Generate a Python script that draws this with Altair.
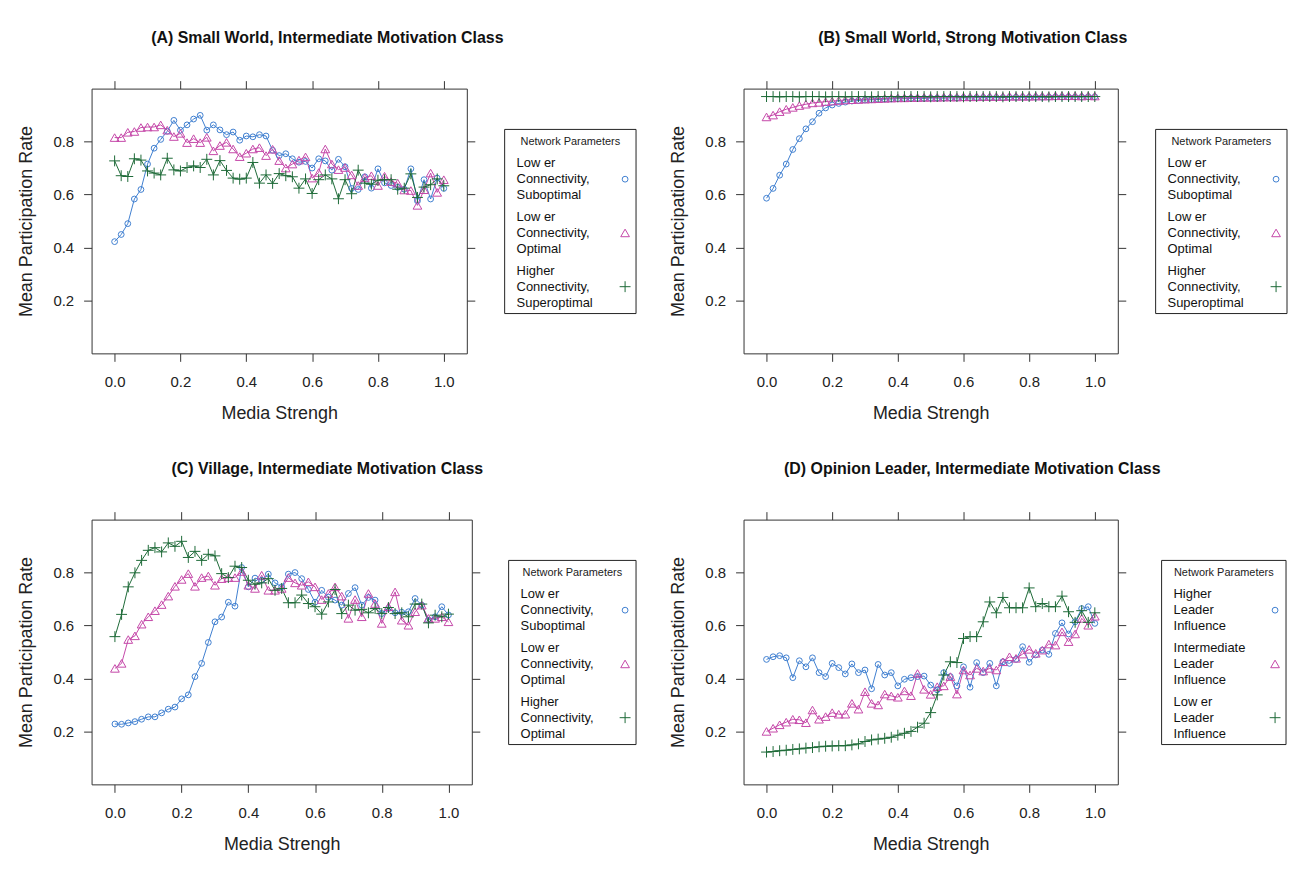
import altair as alt
import pandas as pd

FONT = "Liberation Sans"

X = [round(0.02 * i, 2) for i in range(51)]
X_TICKS = [0.0, 0.2, 0.4, 0.6, 0.8, 1.0]
Y_TICKS = [0.2, 0.4, 0.6, 0.8]

# (A) Small World, Intermediate Motivation Class
A_S1 = [0.422, 0.449, 0.490, 0.583, 0.619, 0.715, 0.775, 0.808, 0.839, 0.880,
        0.843, 0.863, 0.885, 0.899, 0.843, 0.863, 0.844, 0.826, 0.836, 0.805,
        0.821, 0.818, 0.826, 0.821, 0.767, 0.747, 0.754, 0.735, 0.722, 0.725,
        0.700, 0.735, 0.727, 0.692, 0.733, 0.705, 0.623, 0.619, 0.667, 0.624,
        0.697, 0.644, 0.634, 0.627, 0.620, 0.697, 0.576, 0.656, 0.583, 0.662, 0.623]
A_S2 = [0.815, 0.815, 0.835, 0.838, 0.853, 0.855, 0.855, 0.863, 0.843, 0.819,
        0.831, 0.796, 0.811, 0.796, 0.816, 0.765, 0.785, 0.797, 0.772, 0.743,
        0.756, 0.772, 0.777, 0.747, 0.771, 0.728, 0.700, 0.715, 0.730, 0.742,
        0.662, 0.683, 0.772, 0.715, 0.694, 0.702, 0.674, 0.634, 0.664, 0.671,
        0.634, 0.669, 0.649, 0.643, 0.617, 0.615, 0.559, 0.618, 0.681, 0.608, 0.656]
A_S3 = [0.727, 0.671, 0.668, 0.735, 0.730, 0.689, 0.681, 0.674, 0.737, 0.693,
        0.689, 0.702, 0.708, 0.702, 0.733, 0.674, 0.728, 0.691, 0.662, 0.658,
        0.662, 0.721, 0.643, 0.674, 0.642, 0.679, 0.671, 0.667, 0.624, 0.659,
        0.604, 0.656, 0.674, 0.659, 0.584, 0.656, 0.603, 0.692, 0.643, 0.639,
        0.654, 0.656, 0.656, 0.620, 0.624, 0.678, 0.589, 0.628, 0.637, 0.659, 0.633]

# (B) Small World, Strong Motivation Class
B_S1 = [0.586, 0.623, 0.673, 0.715, 0.770, 0.811, 0.848, 0.875, 0.907, 0.927,
        0.938, 0.944, 0.949, 0.953, 0.955, 0.957, 0.958, 0.959, 0.960, 0.961,
        0.962, 0.962, 0.963, 0.963, 0.963, 0.964, 0.964, 0.964, 0.965, 0.965,
        0.965, 0.965, 0.966, 0.966, 0.966, 0.966, 0.966, 0.967, 0.967, 0.967,
        0.967, 0.967, 0.967, 0.968, 0.968, 0.968, 0.968, 0.968, 0.968, 0.969, 0.969]
B_S2 = [0.893, 0.900, 0.913, 0.922, 0.929, 0.936, 0.941, 0.946, 0.948, 0.951,
        0.953, 0.955, 0.957, 0.958, 0.959, 0.960, 0.961, 0.962, 0.963, 0.964,
        0.965, 0.965, 0.966, 0.966, 0.967, 0.967, 0.967, 0.968, 0.968, 0.968,
        0.969, 0.969, 0.969, 0.970, 0.970, 0.970, 0.970, 0.971, 0.971, 0.971,
        0.971, 0.972, 0.972, 0.972, 0.973, 0.973, 0.973, 0.973, 0.972, 0.973, 0.972]
B_S3 = [0.970, 0.970, 0.969, 0.970, 0.970, 0.969, 0.970, 0.970, 0.970, 0.969,
        0.970, 0.970, 0.969, 0.970, 0.970, 0.970, 0.969, 0.970, 0.970, 0.970,
        0.969, 0.970, 0.970, 0.970, 0.970, 0.969, 0.970, 0.970, 0.970, 0.970,
        0.969, 0.970, 0.970, 0.970, 0.970, 0.970, 0.969, 0.970, 0.970, 0.970,
        0.970, 0.970, 0.970, 0.969, 0.970, 0.970, 0.970, 0.970, 0.970, 0.970, 0.970]

# (C) Village, Intermediate Motivation Class
C_S1 = [0.228, 0.227, 0.232, 0.237, 0.246, 0.255, 0.255, 0.270, 0.284, 0.292,
        0.323, 0.338, 0.407, 0.457, 0.536, 0.614, 0.632, 0.688, 0.673, 0.819,
        0.746, 0.779, 0.771, 0.794, 0.761, 0.746, 0.794, 0.800, 0.777, 0.736,
        0.688, 0.733, 0.707, 0.696, 0.677, 0.721, 0.743, 0.677, 0.706, 0.696,
        0.645, 0.664, 0.648, 0.650, 0.652, 0.702, 0.677, 0.620, 0.633, 0.671, 0.640]
C_S2 = [0.438, 0.457, 0.547, 0.561, 0.605, 0.633, 0.656, 0.679, 0.711, 0.748,
        0.774, 0.796, 0.748, 0.781, 0.787, 0.752, 0.777, 0.781, 0.781, 0.804,
        0.752, 0.740, 0.790, 0.733, 0.733, 0.740, 0.781, 0.761, 0.752, 0.765,
        0.746, 0.698, 0.721, 0.746, 0.711, 0.627, 0.698, 0.633, 0.721, 0.683,
        0.608, 0.671, 0.727, 0.620, 0.601, 0.652, 0.677, 0.627, 0.627, 0.633, 0.614]
C_S3 = [0.558, 0.642, 0.746, 0.799, 0.846, 0.884, 0.894, 0.878, 0.912, 0.899,
        0.918, 0.857, 0.880, 0.846, 0.869, 0.863, 0.796, 0.781, 0.824, 0.819,
        0.771, 0.756, 0.761, 0.777, 0.733, 0.740, 0.686, 0.686, 0.715, 0.683,
        0.671, 0.643, 0.689, 0.736, 0.645, 0.677, 0.658, 0.661, 0.648, 0.664,
        0.645, 0.668, 0.645, 0.648, 0.633, 0.681, 0.681, 0.610, 0.639, 0.633, 0.643]

# (D) Opinion Leader, Intermediate Motivation Class
D_S1 = [0.472, 0.482, 0.486, 0.478, 0.403, 0.467, 0.444, 0.478, 0.422, 0.407,
        0.457, 0.441, 0.417, 0.455, 0.422, 0.432, 0.361, 0.453, 0.413, 0.422,
        0.372, 0.397, 0.403, 0.407, 0.409, 0.375, 0.357, 0.422, 0.407, 0.372,
        0.444, 0.367, 0.460, 0.422, 0.457, 0.372, 0.463, 0.457, 0.472, 0.520,
        0.461, 0.489, 0.507, 0.491, 0.570, 0.610, 0.568, 0.614, 0.664, 0.671, 0.608]
D_S2 = [0.200, 0.212, 0.225, 0.235, 0.246, 0.244, 0.233, 0.281, 0.246, 0.256,
        0.271, 0.265, 0.265, 0.306, 0.284, 0.350, 0.306, 0.300, 0.341, 0.334,
        0.329, 0.353, 0.335, 0.419, 0.359, 0.340, 0.369, 0.372, 0.407, 0.341,
        0.432, 0.413, 0.438, 0.428, 0.438, 0.432, 0.463, 0.482, 0.476, 0.492,
        0.510, 0.495, 0.507, 0.530, 0.526, 0.576, 0.539, 0.568, 0.627, 0.601, 0.635]
D_S3 = [0.122, 0.124, 0.127, 0.129, 0.132, 0.134, 0.137, 0.139, 0.142, 0.144,
        0.145, 0.146, 0.146, 0.149, 0.153, 0.162, 0.168, 0.171, 0.174, 0.178,
        0.186, 0.193, 0.200, 0.216, 0.231, 0.271, 0.338, 0.413, 0.463, 0.460,
        0.551, 0.558, 0.558, 0.614, 0.689, 0.648, 0.706, 0.667, 0.667, 0.667,
        0.742, 0.671, 0.683, 0.671, 0.671, 0.711, 0.652, 0.612, 0.656, 0.612, 0.648]

TITLES = ["(A) Small World, Intermediate Motivation Class",
          "(B) Small World, Strong Motivation Class",
          "(C) Village, Intermediate Motivation Class",
          "(D) Opinion Leader, Intermediate Motivation Class"]

LEGEND_TITLE = "Network Parameters"
LABELS_AB = [["Low er", "Connectivity,", "Suboptimal"],
             ["Low er", "Connectivity,", "Optimal"],
             ["Higher", "Connectivity,", "Superoptimal"]]
LABELS_C = [["Low er", "Connectivity,", "Suboptimal"],
            ["Low er", "Connectivity,", "Optimal"],
            ["Higher", "Connectivity,", "Optimal"]]
LABELS_D = [["Higher", "Leader", "Influence"],
            ["Intermediate", "Leader", "Influence"],
            ["Low er", "Leader", "Influence"]]

KEYS = ["s1", "s2", "s3"]
COLORS = ["#3f7fd0", "#c548a8", "#1d6a37"]
SHAPES = ["circle", "triangle-up", "M-1,0L1,0M0,-1L0,1"]
SIZES = [34, 120, 150]
LEG_SIZES = [18, 70, 90]

PLOT_H = 266


def panel_df(series):
    rows = []
    for k, ys in zip(KEYS, series):
        for x, y in zip(X, ys):
            rows.append({"x": x, "y": y, "key": k})
    return pd.DataFrame(rows)


def axis_common():
    return dict(tickSize=8, tickColor="#333", tickWidth=1, domain=False, grid=False,
                labelFontSize=15, labelColor="#222", labelFont=FONT,
                titleFontSize=18, titleFontWeight="normal", titleColor="#222",
                titleFont=FONT)


def plot(series, width):
    df = panel_df(series)
    xs = alt.Scale(domain=[-0.07, 1.07], nice=False, zero=False)
    ys = alt.Scale(domain=[0.0, 1.0], nice=False, zero=False)
    cs = alt.Scale(domain=KEYS, range=COLORS)
    base = alt.Chart(df)
    line = base.mark_line(strokeWidth=1).encode(
        x=alt.X("x:Q", scale=xs,
                axis=alt.Axis(values=X_TICKS, format=".1f", title="Media Strengh",
                              labelPadding=13, titlePadding=15, **axis_common())),
        y=alt.Y("y:Q", scale=ys,
                axis=alt.Axis(values=Y_TICKS, format=".1f", title="Mean Participation Rate",
                              labelPadding=10, titlePadding=17, **axis_common())),
        color=alt.Color("key:N", scale=cs, legend=None),
    )
    pts = base.mark_point(filled=False, strokeWidth=1, opacity=1).encode(
        x=alt.X("x:Q", scale=xs,
                axis=alt.Axis(orient="top", values=X_TICKS, labels=False, title="",
                              **axis_common())),
        y=alt.Y("y:Q", scale=ys,
                axis=alt.Axis(orient="right", values=Y_TICKS, labels=False, title="",
                              **axis_common())),
        color=alt.Color("key:N", scale=cs, legend=None),
        shape=alt.Shape("key:N", scale=alt.Scale(domain=KEYS, range=SHAPES), legend=None),
        size=alt.Size("key:N", scale=alt.Scale(domain=KEYS, range=SIZES), legend=None),
    )
    return alt.layer(line, pts).resolve_axis(x="independent", y="independent").properties(
        width=width, height=PLOT_H)


def legend(labels, width):
    ldf = pd.DataFrame({"idx": [0, 1, 2], "key": KEYS,
                        "label": ["\n".join(l) for l in labels]})
    yscale = alt.Scale(domain=[0, 2], range=[91, 199])
    box = alt.Chart(pd.DataFrame({"t": [LEGEND_TITLE]})).mark_rect(
        fill="transparent", stroke="#222", strokeWidth=1).encode(
        x=alt.value(0), x2=alt.value(width), y=alt.value(41), y2=alt.value(226))
    title = alt.Chart(pd.DataFrame({"t": [LEGEND_TITLE]})).mark_text(
        fontSize=11, font=FONT, color="#222", baseline="middle").encode(
        x=alt.value(width / 2), y=alt.value(54), text="t:N")
    base = alt.Chart(ldf)
    txt = base.mark_text(align="left", baseline="middle", fontSize=13, lineBreak="\n",
                         lineHeight=16, dy=-16, font=FONT, color="#111").encode(
        x=alt.value(12), y=alt.Y("idx:Q", scale=yscale, axis=None), text="label:N")
    sym = base.mark_point(filled=False, strokeWidth=1, opacity=1).encode(
        x=alt.value(width - 11), y=alt.Y("idx:Q", scale=yscale, axis=None),
        color=alt.Color("key:N", scale=alt.Scale(domain=KEYS, range=COLORS), legend=None),
        shape=alt.Shape("key:N", scale=alt.Scale(domain=KEYS, range=SHAPES), legend=None),
        size=alt.Size("key:N", scale=alt.Scale(domain=KEYS, range=LEG_SIZES), legend=None),
    )
    return alt.layer(box, title, txt, sym).properties(
        width=width, height=PLOT_H, view=alt.ViewBackground(stroke="transparent"))


def subfig(title, series, labels, pw, lw, gap, dx):
    return alt.hconcat(plot(series, pw), legend(labels, lw), spacing=gap,
                       bounds="flush").properties(
        title=alt.TitleParams(title, fontSize=16, fontWeight="bold", font=FONT,
                              anchor="middle", dx=dx, offset=34, color="#111"))


row1 = alt.hconcat(
    subfig(TITLES[0], [A_S1, A_S2, A_S3], LABELS_AB, 377, 132, 38, 0),
    subfig(TITLES[1], [B_S1, B_S2, B_S3], LABELS_AB, 376, 132, 38, -6),
    spacing=32)
row2 = alt.hconcat(
    subfig(TITLES[2], [C_S1, C_S2, C_S3], LABELS_C, 382, 128, 37, 0),
    subfig(TITLES[3], [D_S1, D_S2, D_S3], LABELS_D, 376, 125, 44, -6),
    spacing=32)

chart = alt.vconcat(row1, row2, spacing=38).properties(
    padding={"left": 17, "top": 28, "right": 2, "bottom": 12},
    background="white",
).configure_view(stroke="#333", strokeWidth=1)

chart.save("out.html", embed_options={"renderer": "svg", "actions": False})
